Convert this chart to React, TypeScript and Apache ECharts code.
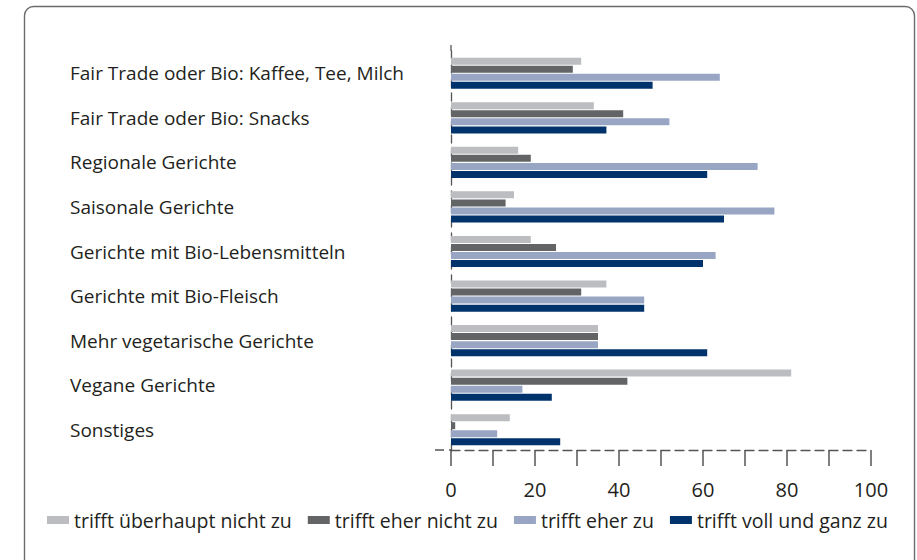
import React, { useEffect, useRef } from "react";
import * as echarts from "echarts";

const categories = [
  "Fair Trade oder Bio: Kaffee, Tee, Milch",
  "Fair Trade oder Bio: Snacks",
  "Regionale Gerichte",
  "Saisonale Gerichte",
  "Gerichte mit Bio-Lebensmitteln",
  "Gerichte mit Bio-Fleisch",
  "Mehr vegetarische Gerichte",
  "Vegane Gerichte",
  "Sonstiges",
];

const seriesNames = [
  "trifft überhaupt nicht zu",
  "trifft eher nicht zu",
  "trifft eher zu",
  "trifft voll und ganz zu",
];

const ueberhauptNicht = [31, 34, 16, 15, 19, 37, 35, 81, 14];
const eherNicht = [29, 41, 19, 13, 25, 31, 35, 42, 1];
const eherZu = [64, 52, 73, 77, 63, 46, 35, 17, 11];
const vollUndGanz = [48, 37, 61, 65, 60, 46, 61, 24, 26];

const seriesValues = [ueberhauptNicht, eherNicht, eherZu, vollUndGanz];
const colors = ["#bcbdc0", "#636466", "#98a6c4", "#00336b"];

const xTicks = [0, 20, 40, 60, 80, 100];

const FONT = "'Open Sans', 'Noto Sans', sans-serif";

export default function App() {
  const ref = useRef<HTMLDivElement>(null);

  useEffect(() => {
    if (!ref.current) return;
    const chart = echarts.init(ref.current, undefined, { renderer: "svg" });
    const gridLeft = 451;
    const gridTop = 51;
    const gridBottom = 108;
    chart.setOption({
      animation: false,
      backgroundColor: "#ffffff",
      textStyle: { fontFamily: FONT },
      grid: {
        left: gridLeft,
        right: 917 - 871,
        top: gridTop,
        bottom: gridBottom,
        containLabel: false,
      },
      legend: {
        left: 42,
        top: 505,
        itemWidth: 22,
        itemHeight: 8,
        itemGap: 16,
        icon: "rect",
        textStyle: { fontSize: 19.5, color: "#231f20", fontFamily: FONT },
        data: seriesNames,
      },
      xAxis: {
        type: "value",
        min: 0,
        max: 100,
        interval: 10,
        offset: -2,
        axisLine: {
          show: true,
          lineStyle: { color: "#555", width: 1.3, type: [9, 5] },
        },
        axisTick: {
          show: true,
          length: 16,
          lineStyle: { color: "#555", width: 1.5 },
        },
        splitLine: { show: false },
        axisLabel: {
          fontSize: 20,
          color: "#231f20",
          margin: 29,
          fontFamily: FONT,
          formatter: (v: number) => (xTicks.includes(v) ? String(v) : ""),
        },
      },
      yAxis: {
        type: "category",
        data: categories,
        inverse: true,
        axisLine: {
          show: true,
          lineStyle: { color: "#555", width: 1.3, type: [8, 6] },
        },
        axisTick: { show: false },
        axisLabel: {
          align: "left",
          margin: gridLeft - 70,
          fontSize: 19,
          color: "#231f20",
          fontFamily: FONT,
        },
      },
      graphic: [
        {
          type: "rect",
          shape: { x: 24.5, y: 6.5, width: 890, height: 620, r: 9 },
          style: { fill: "none", stroke: "#6b6b6b", lineWidth: 1.4 },
          silent: true,
        },
        {
          type: "line",
          shape: { x1: 435, y1: 450, x2: 451, y2: 450 },
          style: { stroke: "#555", lineWidth: 1.3, lineDash: [9, 5] },
          silent: true,
        },
        {
          type: "line",
          shape: { x1: 451, y1: 45, x2: 451, y2: 51 },
          style: { stroke: "#555", lineWidth: 1.3 },
          silent: true,
        },
      ],
      series: seriesNames.map((name, i) => ({
        name,
        type: "bar",
        data: seriesValues[i],
        barWidth: 7,
        barGap: "15%",
        itemStyle: { color: colors[i] },
      })),
    });
    return () => chart.dispose();
  }, []);

  return (
    <div
      ref={ref}
      style={{ position: "absolute", left: 0, top: 0, width: 917, height: 560 }}
    />
  );
}
